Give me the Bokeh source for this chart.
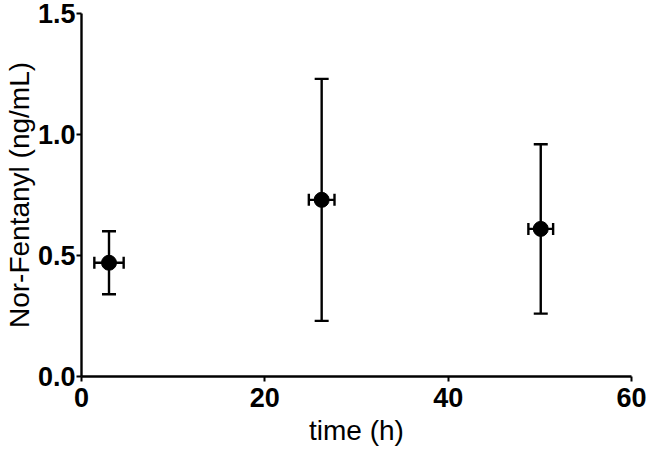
from bokeh.plotting import figure
from bokeh.models import ColumnDataSource, Whisker, TeeHead, Range1d, FixedTicker
from bokeh.embed import file_html
from bokeh.resources import INLINE

time_h = [3.0, 26.2, 50.1]
time_err = [1.6, 1.4, 1.35]
conc = [0.47, 0.73, 0.61]
conc_lo = [0.34, 0.23, 0.26]
conc_hi = [0.60, 1.23, 0.96]
x_ticks = [0, 20, 40, 60]
y_ticks = [0.0, 0.5, 1.0, 1.5]
y_tick_labels = ["0.0", "0.5", "1.0", "1.5"]

src = ColumnDataSource(dict(
    x=time_h, y=conc,
    xlo=[a - b for a, b in zip(time_h, time_err)],
    xhi=[a + b for a, b in zip(time_h, time_err)],
    ylo=conc_lo, yhi=conc_hi,
))

p = figure(width=647, height=452, output_backend="svg", toolbar_location=None,
           x_range=Range1d(0, 60), y_range=Range1d(0, 1.5),
           min_border_left=70, min_border_right=16, min_border_top=13, min_border_bottom=76)
p.outline_line_color = None
p.xgrid.visible = False
p.ygrid.visible = False
p.background_fill_color = "white"
p.border_fill_color = "white"

yw = Whisker(source=src, base="x", upper="yhi", lower="ylo", dimension="height",
             line_width=2.4, line_color="black",
             upper_head=TeeHead(size=14, line_width=2.4, line_color="black"),
             lower_head=TeeHead(size=14, line_width=2.4, line_color="black"))
xw = Whisker(source=src, base="y", upper="xhi", lower="xlo", dimension="width",
             line_width=2.4, line_color="black",
             upper_head=TeeHead(size=12, line_width=2.4, line_color="black"),
             lower_head=TeeHead(size=12, line_width=2.4, line_color="black"))
p.add_layout(yw)
p.add_layout(xw)
p.scatter("x", "y", source=src, size=15, color="black")

for ax in (p.xaxis[0], p.yaxis[0]):
    ax.axis_line_width = 2.4
    ax.axis_line_color = "black"
    ax.major_tick_line_width = 2
    ax.major_tick_line_color = "black"
    ax.major_tick_out = 5
    ax.major_tick_in = 0
    ax.minor_tick_line_color = None
    ax.major_label_text_font = "Liberation Sans"
    ax.major_label_text_font_style = "bold"
    ax.major_label_text_font_size = "27px"
    ax.major_label_text_color = "black"
    ax.axis_label_text_font = "Liberation Sans"
    ax.axis_label_text_font_style = "normal"
    ax.axis_label_text_font_size = "28px"
    ax.axis_label_text_color = "black"

p.xaxis.ticker = FixedTicker(ticks=x_ticks)
p.yaxis.ticker = FixedTicker(ticks=y_ticks)
p.yaxis.major_label_overrides = {t: l for t, l in zip(y_ticks, y_tick_labels)}
p.xaxis.axis_label = "time (h)"
p.yaxis.axis_label = "Nor-Fentanyl (ng/mL)"
p.xaxis.major_label_standoff = 6
p.yaxis.major_label_standoff = 1
p.xaxis.axis_label_standoff = 5
p.yaxis.axis_label_standoff = 0

open("out.html", "w").write(file_html(p, INLINE))
